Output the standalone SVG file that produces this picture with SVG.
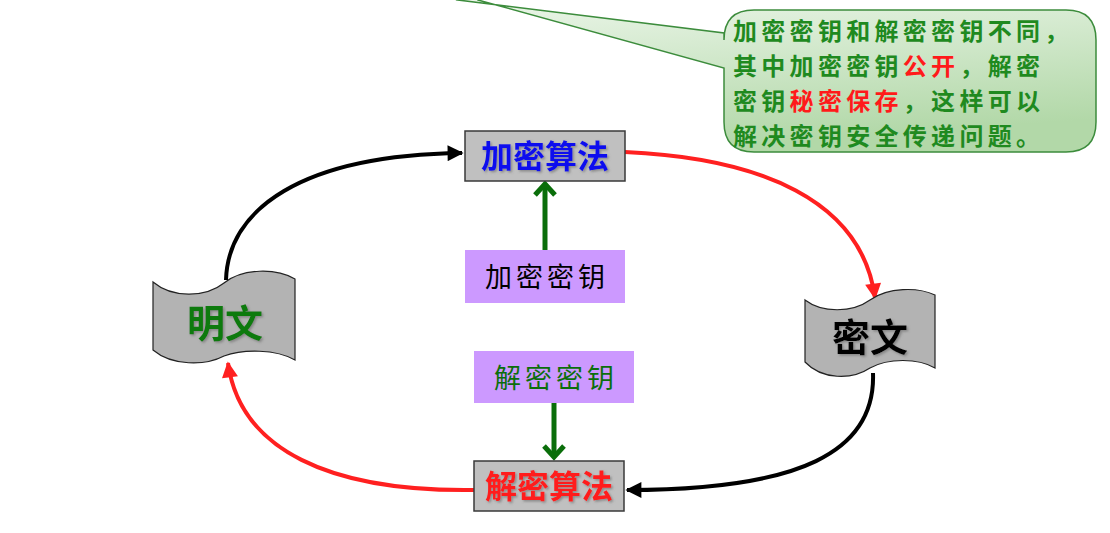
<svg xmlns="http://www.w3.org/2000/svg" width="1110" height="533" viewBox="0 0 1110 533">
<defs>
<style>
.box{fill:#c0c0c0;stroke:#3a3a3a;stroke-width:1.5}
.key{fill:#cc99ff}
.flag{fill:#b3b3b3;stroke:#222;stroke-width:1.2}
.t{font-family:"Noto Sans CJK SC","Noto Sans",sans-serif;text-anchor:middle}
.title{font-size:32px;font-weight:bold;filter:url(#sh)}
.big{font-size:38px;font-weight:bold;filter:url(#sh)}
.keyt{font-size:27px;letter-spacing:4px}
.call{font-family:"Noto Sans CJK SC","Noto Sans",sans-serif;font-size:24px;letter-spacing:4.3px;fill:#1f8a1f;font-weight:bold}
.red{fill:#ff1a1a}
.cb{fill:none;stroke:#000;stroke-width:4}
.cr{fill:none;stroke:#ff2020;stroke-width:4}
.cg{fill:none;stroke:#0a6e0a;stroke-width:5}
</style>
<filter id="sh" x="-10%" y="-10%" width="130%" height="140%">
<feDropShadow dx="1.5" dy="1.5" stdDeviation="1" flood-color="#666" flood-opacity="0.6"/>
</filter>
<linearGradient id="cg" x1="0" y1="0" x2="0.3" y2="1">
<stop offset="0" stop-color="#eef7ec"/>
<stop offset="1" stop-color="#b2d8a8"/>
</linearGradient>
<marker id="ab" viewBox="0 0 10 10" refX="9" refY="5" markerWidth="18" markerHeight="16" markerUnits="userSpaceOnUse" orient="auto">
<path d="M0,0 L10,5 L0,10 Z" fill="#000"/>
</marker>
<marker id="ar" viewBox="0 0 10 10" refX="9" refY="5" markerWidth="18" markerHeight="16" markerUnits="userSpaceOnUse" orient="auto">
<path d="M0,0 L10,5 L0,10 Z" fill="#ff2020"/>
</marker>
</defs>
<rect width="1110" height="533" fill="#fff"/>

<g id="callout">
<path d="M754,10 H1066 Q1096,10 1096,40 V122 Q1096,152 1066,152 H754 Q724,152 724,122 V68 L478,0 L470,-6 L458,0 L724,33 V40 Q724,10 754,10 Z" fill="url(#cg)" stroke="#3c8c3c" stroke-width="1.5"/>
<text class="call" x="733" y="40">加密密钥和解密密钥不同，</text>
<text class="call" x="733" y="75">其中加密密钥<tspan class="red">公开</tspan>，解密</text>
<text class="call" x="733" y="110">密钥<tspan class="red">秘密保存</tspan>，这样可以</text>
<text class="call" x="733" y="145">解决密钥安全传递问题。</text>
</g>

<g id="connectors">
<path class="cb" d="M226,280 C228,210 300,155 462,153" marker-end="url(#ab)"/>
<path class="cr" d="M625,152 C760,158 862,200 875,298" marker-end="url(#ar)"/>
<path class="cb" d="M873,373 C876,452 800,490 627,490" marker-end="url(#ab)"/>
<path class="cr" d="M474,490 C330,492 240,450 228,363" marker-end="url(#ar)"/>
<path class="cg" d="M545,250 V184"/>
<path class="cg" d="M535,195 L545,184 L555,195"/>
<path class="cg" d="M554,403 V457"/>
<path class="cg" d="M544,446 L554,457 L564,446"/>
</g>

<g id="plain">
<path class="flag" d="M153,282 C172,298 205,298 224,283 C243,268 276,268 295,279 L295,360 C276,349 243,349 224,356 C205,366 172,366 153,350 Z"/>
<text class="t big" x="225" y="337" fill="#0b7a0b">明文</text>
</g>

<g id="cipher">
<path class="flag" d="M805,300 C822,313 852,313 870,300 C888,287 918,287 935,295 L935,368 C918,358 888,358 870,368 C852,380 822,380 805,362 Z"/>
<text class="t big" x="870" y="351" fill="#000">密文</text>
</g>

<g id="enc">
<rect class="box" x="465" y="131" width="160" height="50"/>
<text class="t title" x="545" y="168" fill="#1010ee">加密算法</text>
</g>

<g id="enckey">
<rect class="key" x="465" y="250" width="160" height="53"/>
<text class="t keyt" x="547" y="287" fill="#000">加密密钥</text>
</g>

<g id="deckey">
<rect class="key" x="474" y="351" width="160" height="52"/>
<text class="t keyt" x="556" y="388" fill="#0b6e0b">解密密钥</text>
</g>

<g id="dec">
<rect class="box" x="474" y="461" width="150" height="50"/>
<text class="t title" x="549" y="498" fill="#ff1a1a">解密算法</text>
</g>
</svg>
